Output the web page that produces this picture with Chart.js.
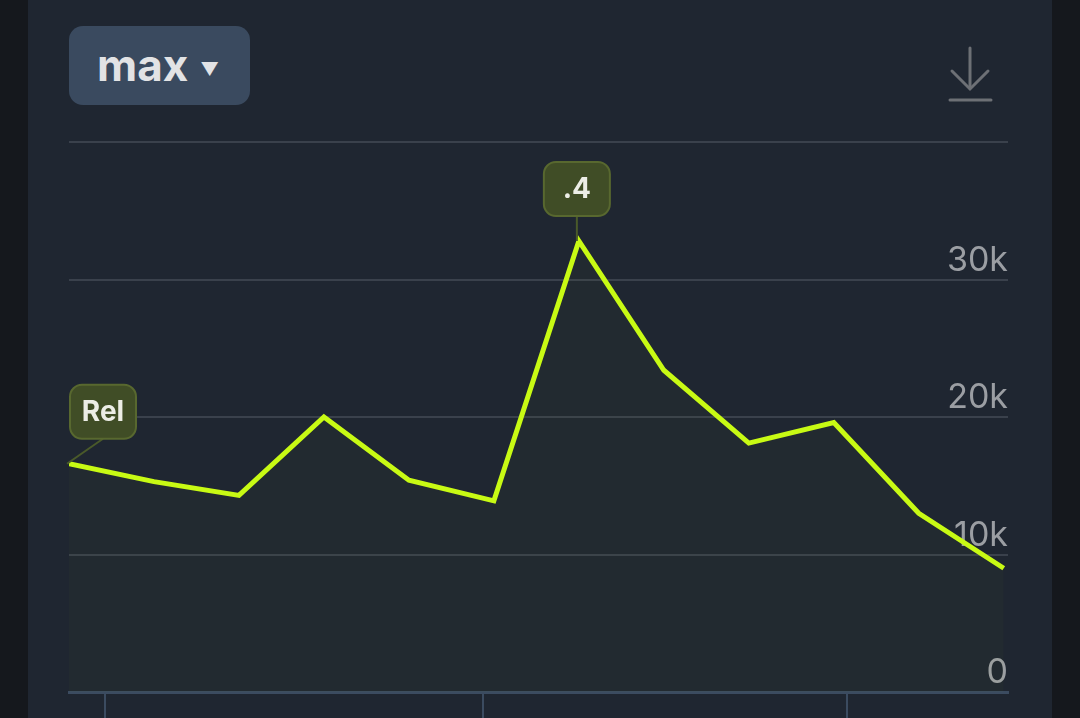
<!DOCTYPE html>
<html>
<head>
<meta charset="utf-8">
<script src="https://cdn.jsdelivr.net/npm/chart.js@4"></script>
<style>
  html, body { margin: 0; padding: 0; background: #15181d; width: 1080px; height: 718px; overflow: hidden; }
  .panel { position: absolute; left: 28px; top: 0; width: 1024px; height: 718px; background: #1f2631; }
  .range { position: absolute; left: 69px; top: 26px; width: 181px; height: 79px; border-radius: 14px;
    background: #3a4a5f; color: #e2e3e5; font-family: Inter, Roboto, sans-serif; font-weight: 700;
    font-size: 44px; line-height: 79px; box-sizing: border-box; padding-left: 28px; }
  .range span { font-size: 18px; margin-left: 12px; vertical-align: 6px; }
  .dl { position: absolute; left: 940px; top: 40px; }
  canvas { position: absolute; left: 0; top: 0; }
</style>
</head>
<body>
<div class="panel"></div>
<div class="range">max<span>▼</span></div>
<svg class="dl" width="60" height="70" viewBox="940 40 60 70">
  <g stroke="#6d7075" stroke-width="3" stroke-linecap="round" fill="none">
    <line x1="970" y1="48" x2="970" y2="88"/>
    <polyline points="952,71 970,89 988,71"/>
    <line x1="950" y1="100" x2="991" y2="100"/>
  </g>
</svg>
<div style="position:absolute;left:0;top:0;width:1080px;height:760px;">
  <canvas id="chart" width="1080" height="760"></canvas>
</div>
<script>
const values = [16600, 15300, 14300, 20000, 15400, 13900, 32800, 23400, 18100, 19600, 13000, 9000];
const pointNotes = ['Rel', '', '', '', '', '', '.4', '', '', '', '', ''];
const xTickPositions = [0.42, 4.87, 9.15];
const yTicks = [0, 10000, 20000, 30000, 40000];

const points = values.map((v, i) => ({ x: i, y: v }));

const notePlugin = {
  id: 'notes',
  afterDatasetsDraw(chart) {
    const ctx = chart.ctx;
    const meta = chart.getDatasetMeta(0);
    const area = chart.chartArea;
    const w = 66, h = 54, gap = 25;
    pointNotes.forEach((txt, i) => {
      if (!txt) return;
      const p = meta.data[i];
      let cx = Math.max(p.x - 2, area.left + w / 2 + 1);
      const bottom = p.y - gap;
      const top = bottom - h;
      ctx.save();
      ctx.strokeStyle = '#4a5a2a';
      ctx.lineWidth = 2;
      ctx.beginPath();
      ctx.moveTo(cx, bottom);
      ctx.lineTo(p.x - 2, p.y);
      ctx.stroke();
      ctx.beginPath();
      ctx.roundRect(cx - w / 2, top, w, h, 12);
      ctx.fillStyle = '#404d26';
      ctx.fill();
      ctx.strokeStyle = '#58682f';
      ctx.stroke();
      ctx.fillStyle = '#ecede6';
      ctx.font = 'bold 28px Inter, Roboto, sans-serif';
      ctx.textAlign = 'center';
      ctx.textBaseline = 'middle';
      ctx.fillText(txt, cx, top + h / 2 + 1);
      ctx.restore();
    });
  }
};

new Chart(document.getElementById('chart'), {
  type: 'line',
  data: {
    datasets: [{
      data: points,
      borderColor: '#c8fa14',
      borderWidth: 5,
      backgroundColor: 'rgba(200, 250, 20, 0.018)',
      fill: 'origin',
      pointRadius: 0,
      tension: 0
    }]
  },
  options: {
    responsive: false,
    animation: false,
    layout: { padding: { left: 69, right: 72, top: 142, bottom: 28 } },
    plugins: { legend: { display: false }, tooltip: { enabled: false } },
    scales: {
      x: {
        type: 'linear',
        min: 0,
        max: 11.05,
        afterBuildTicks(scale) { scale.ticks = xTickPositions.map(v => ({ value: v })); },
        afterFit(scale) { scale.height = 40; },
        ticks: { display: false },
        grid: { drawOnChartArea: false, drawTicks: true, tickLength: 40, color: '#3b4b60', lineWidth: 2 },
        border: { display: true, color: '#3b4b60', width: 3 }
      },
      y: {
        position: 'right',
        min: 0,
        max: 40000,
        afterBuildTicks(scale) { scale.ticks = yTicks.map(v => ({ value: v })); },
        afterFit(scale) { scale.width = 0; },
        ticks: {
          mirror: true,
          padding: 0,
          labelOffset: -19,
          color: '#9b9ea3',
          font: { family: 'Inter, Roboto, sans-serif', size: 34 },
          callback: v => v === 40000 ? '' : (v === 0 ? '0' : (v / 1000) + 'k')
        },
        grid: { drawTicks: false, color: '#3a414c', lineWidth: 2 },
        border: { display: false }
      }
    }
  },
  plugins: [notePlugin]
});
</script>
</body>
</html>
